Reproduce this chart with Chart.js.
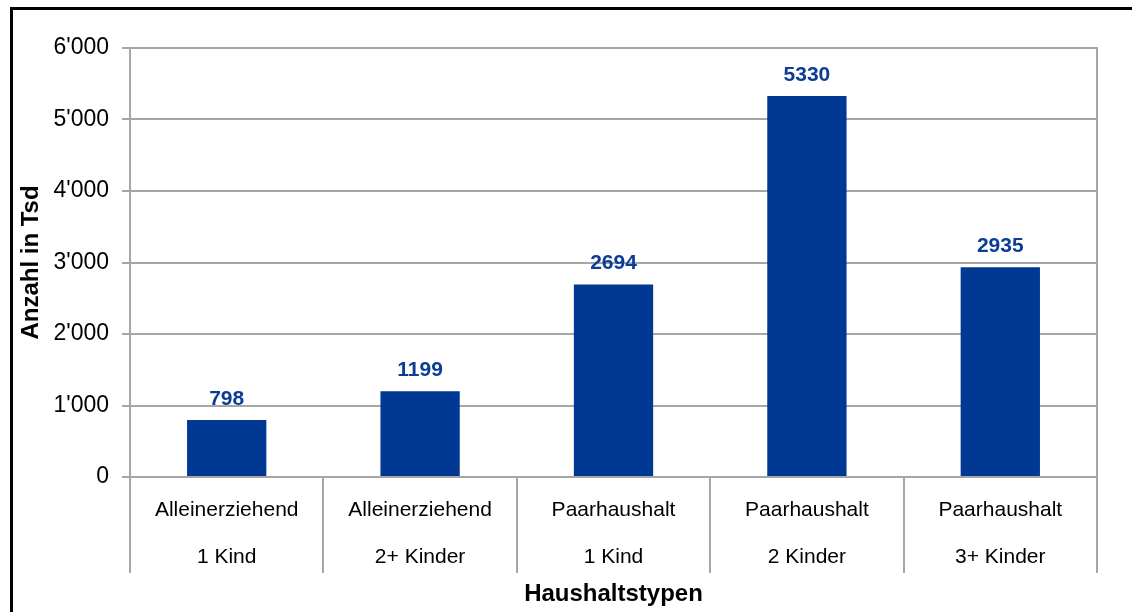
<!DOCTYPE html>
<html>
<head>
<meta charset="utf-8">
<script src="https://cdn.jsdelivr.net/npm/chart.js@4/dist/chart.umd.min.js"></script>
<style>
  html, body { margin: 0; padding: 0; background: #fff; overflow: hidden; }
  #wrap { position: relative; width: 1132px; height: 612px; overflow: hidden; }
  #frame { position: absolute; left: 10px; top: 7px; width: 1300px; height: 800px;
           border-left: 3px solid #000; border-top: 3px solid #000; }
  #topchart { position: absolute; left: 0; top: 0; }
</style>
</head>
<body>
<div id="wrap">
  <div id="frame"></div>
  <canvas id="topchart" width="1132" height="612"></canvas>
</div>
<script>
var groups = ['Alleinerziehend', 'Alleinerziehend', 'Paarhaushalt', 'Paarhaushalt', 'Paarhaushalt'];
var subgroups = ['1 Kind', '2+ Kinder', '1 Kind', '2 Kinder', '3+ Kinder'];
var values = [798, 1199, 2694, 5330, 2935];
var yTicks = [0, 1000, 2000, 3000, 4000, 5000, 6000];

var FONT = "'Liberation Sans', Arial, sans-serif";
var GRID = '#A6A6A6';

function fmt(v) {
  return String(v).replace(/\B(?=(\d{3})+(?!\d))/g, "'");
}

var barLabels = {
  id: 'barLabels',
  afterDatasetsDraw: function (chart) {
    var ctx = chart.ctx;
    var meta = chart.getDatasetMeta(0);
    ctx.save();
    ctx.font = 'bold 21px ' + FONT;
    ctx.fillStyle = '#0B3D96';
    ctx.textAlign = 'center';
    ctx.textBaseline = 'middle';
    meta.data.forEach(function (bar, i) {
      ctx.fillText(String(values[i]), bar.x, bar.y - 21);
    });
    ctx.restore();
  }
};

var chart = new Chart(document.getElementById('topchart'), {
  plugins: [barLabels],
  type: 'bar',
  data: {
    labels: groups.map(function (g, i) { return [g, subgroups[i]]; }),
    datasets: [
      {
        data: values,
        backgroundColor: '#003893',
        barPercentage: 0.41,
        categoryPercentage: 1,
      },
    ]
  },
  options: {
    responsive: false,
    animation: false,
    layout: {
      padding: { top: 48, left: 0, right: 0, bottom: 0 }
    },
    plugins: {
      legend: { display: false },
      tooltip: { enabled: false },
    },
    scales: {
      x: {
        grid: {
          offset: true,
          drawOnChartArea: false,
          drawTicks: true,
          tickLength: 96,
          color: GRID,
          lineWidth: 2,
        },
        border: { display: true, color: GRID, width: 2 },
        ticks: {
          autoSkip: false,
          maxRotation: 0,
          padding: -86.5,
          color: '#000',
          font: { family: FONT, size: 21, lineHeight: '47px' },
        },
        title: {
          display: true,
          text: 'Haushaltstypen',
          color: '#000',
          font: { family: FONT, size: 24, weight: 'bold', lineHeight: 1.2 },
          padding: { top: 0, bottom: 3 },
        },
        afterFit: function (scale) { scale.height = 135; }
      },
      y: {
        min: 0,
        max: 6000,
        afterBuildTicks: function (scale) {
          scale.ticks = yTicks.map(function (v) { return { value: v }; });
        },
        grid: {
          color: GRID,
          lineWidth: 2,
          tickLength: 8,
        },
        border: { display: true, color: GRID, width: 2 },
        ticks: {
          padding: 13,
          color: '#000',
          font: { family: FONT, size: 23 },
          callback: function (v) { return fmt(v); }
        },
        title: {
          display: true,
          text: 'Anzahl in Tsd',
          color: '#000',
          font: { family: FONT, size: 24, weight: 'bold', lineHeight: 1.2 },
          padding: { top: 17, bottom: 0 },
        },
        afterFit: function (scale) { scale.width = 130; }
      },
      y2: {
        position: 'right',
        min: 0,
        max: 6000,
        ticks: { display: false },
        grid: { drawOnChartArea: false, drawTicks: false },
        border: { display: true, color: GRID, width: 2 },
        afterFit: function (scale) { scale.width = 35; }
      }
    }
  },
});
</script>
</body>
</html>
